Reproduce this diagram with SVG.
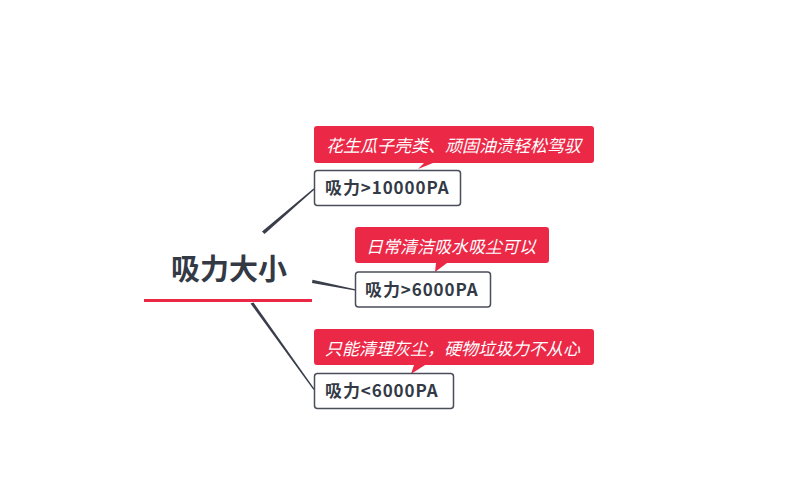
<svg xmlns="http://www.w3.org/2000/svg" width="788" height="502" viewBox="0 0 788 502">
<style>
.box{fill:#ffffff;stroke:#4a4e58;stroke-width:1.5}
.call{fill:#ec2847}
.ntext{font-family:"Noto Sans CJK SC",sans-serif;font-weight:bold;font-size:17px;letter-spacing:0.9px;fill:#333a46}
.ctext{font-family:"Noto Sans CJK SC",sans-serif;font-style:italic;font-size:17px;fill:#ffffff}
.root{font-family:"Noto Sans CJK SC",sans-serif;font-weight:bold;font-size:29px;fill:#333a46}
.conn{fill:#3a3e4a}
</style>
<rect width="788" height="502" fill="#ffffff"/>
<g id="connectors">
<polygon class="conn" points="262,231.5 264.5,234 314.5,189.6 313.5,188.6"/>
<polygon class="conn" points="312.5,279.8 312,283 355,290.6 355.2,289.2"/>
<polygon class="conn" points="250.5,303.5 253.5,302.5 314.5,389 313.4,389.8"/>
</g>
<g id="root">
<text class="root" x="229" y="280" text-anchor="middle">吸力大小</text>
<rect x="144" y="299" width="168" height="3" fill="#ec2847"/>
</g>
<g id="node1">
<path class="call" d="M317,126 H591 a3,3 0 0 1 3,3 V160 a3,3 0 0 1 -3,3 H433 L418,169 L424,163 H317 a3,3 0 0 1 -3,-3 V129 a3,3 0 0 1 3,-3 Z"/>
<text class="ctext" x="326" y="152">花生瓜子壳类、顽固油渍轻松驾驭</text>
<rect class="box" x="314.5" y="170.5" width="146" height="35" rx="3"/>
<text class="ntext" x="325" y="194">吸力&gt;10000PA</text>
</g>
<g id="node2">
<path class="call" d="M358,227 H546 a3,3 0 0 1 3,3 V260 a3,3 0 0 1 -3,3 H447 L435,272 L436,263 H358 a3,3 0 0 1 -3,-3 V230 a3,3 0 0 1 3,-3 Z"/>
<text class="ctext" x="366" y="253">日常清洁吸水吸尘可以</text>
<rect class="box" x="355.5" y="272" width="135" height="35" rx="3"/>
<text class="ntext" x="365" y="296">吸力&gt;6000PA</text>
</g>
<g id="node3">
<path class="call" d="M317,329 H591 a3,3 0 0 1 3,3 V362 a3,3 0 0 1 -3,3 H425 L411,374 L414,365 H317 a3,3 0 0 1 -3,-3 V332 a3,3 0 0 1 3,-3 Z"/>
<text class="ctext" x="325" y="355">只能清理灰尘，硬物垃圾力不从心</text>
<rect class="box" x="314.5" y="373.5" width="139" height="35" rx="3"/>
<text class="ntext" x="325" y="397">吸力&lt;6000PA</text>
</g>
</svg>
